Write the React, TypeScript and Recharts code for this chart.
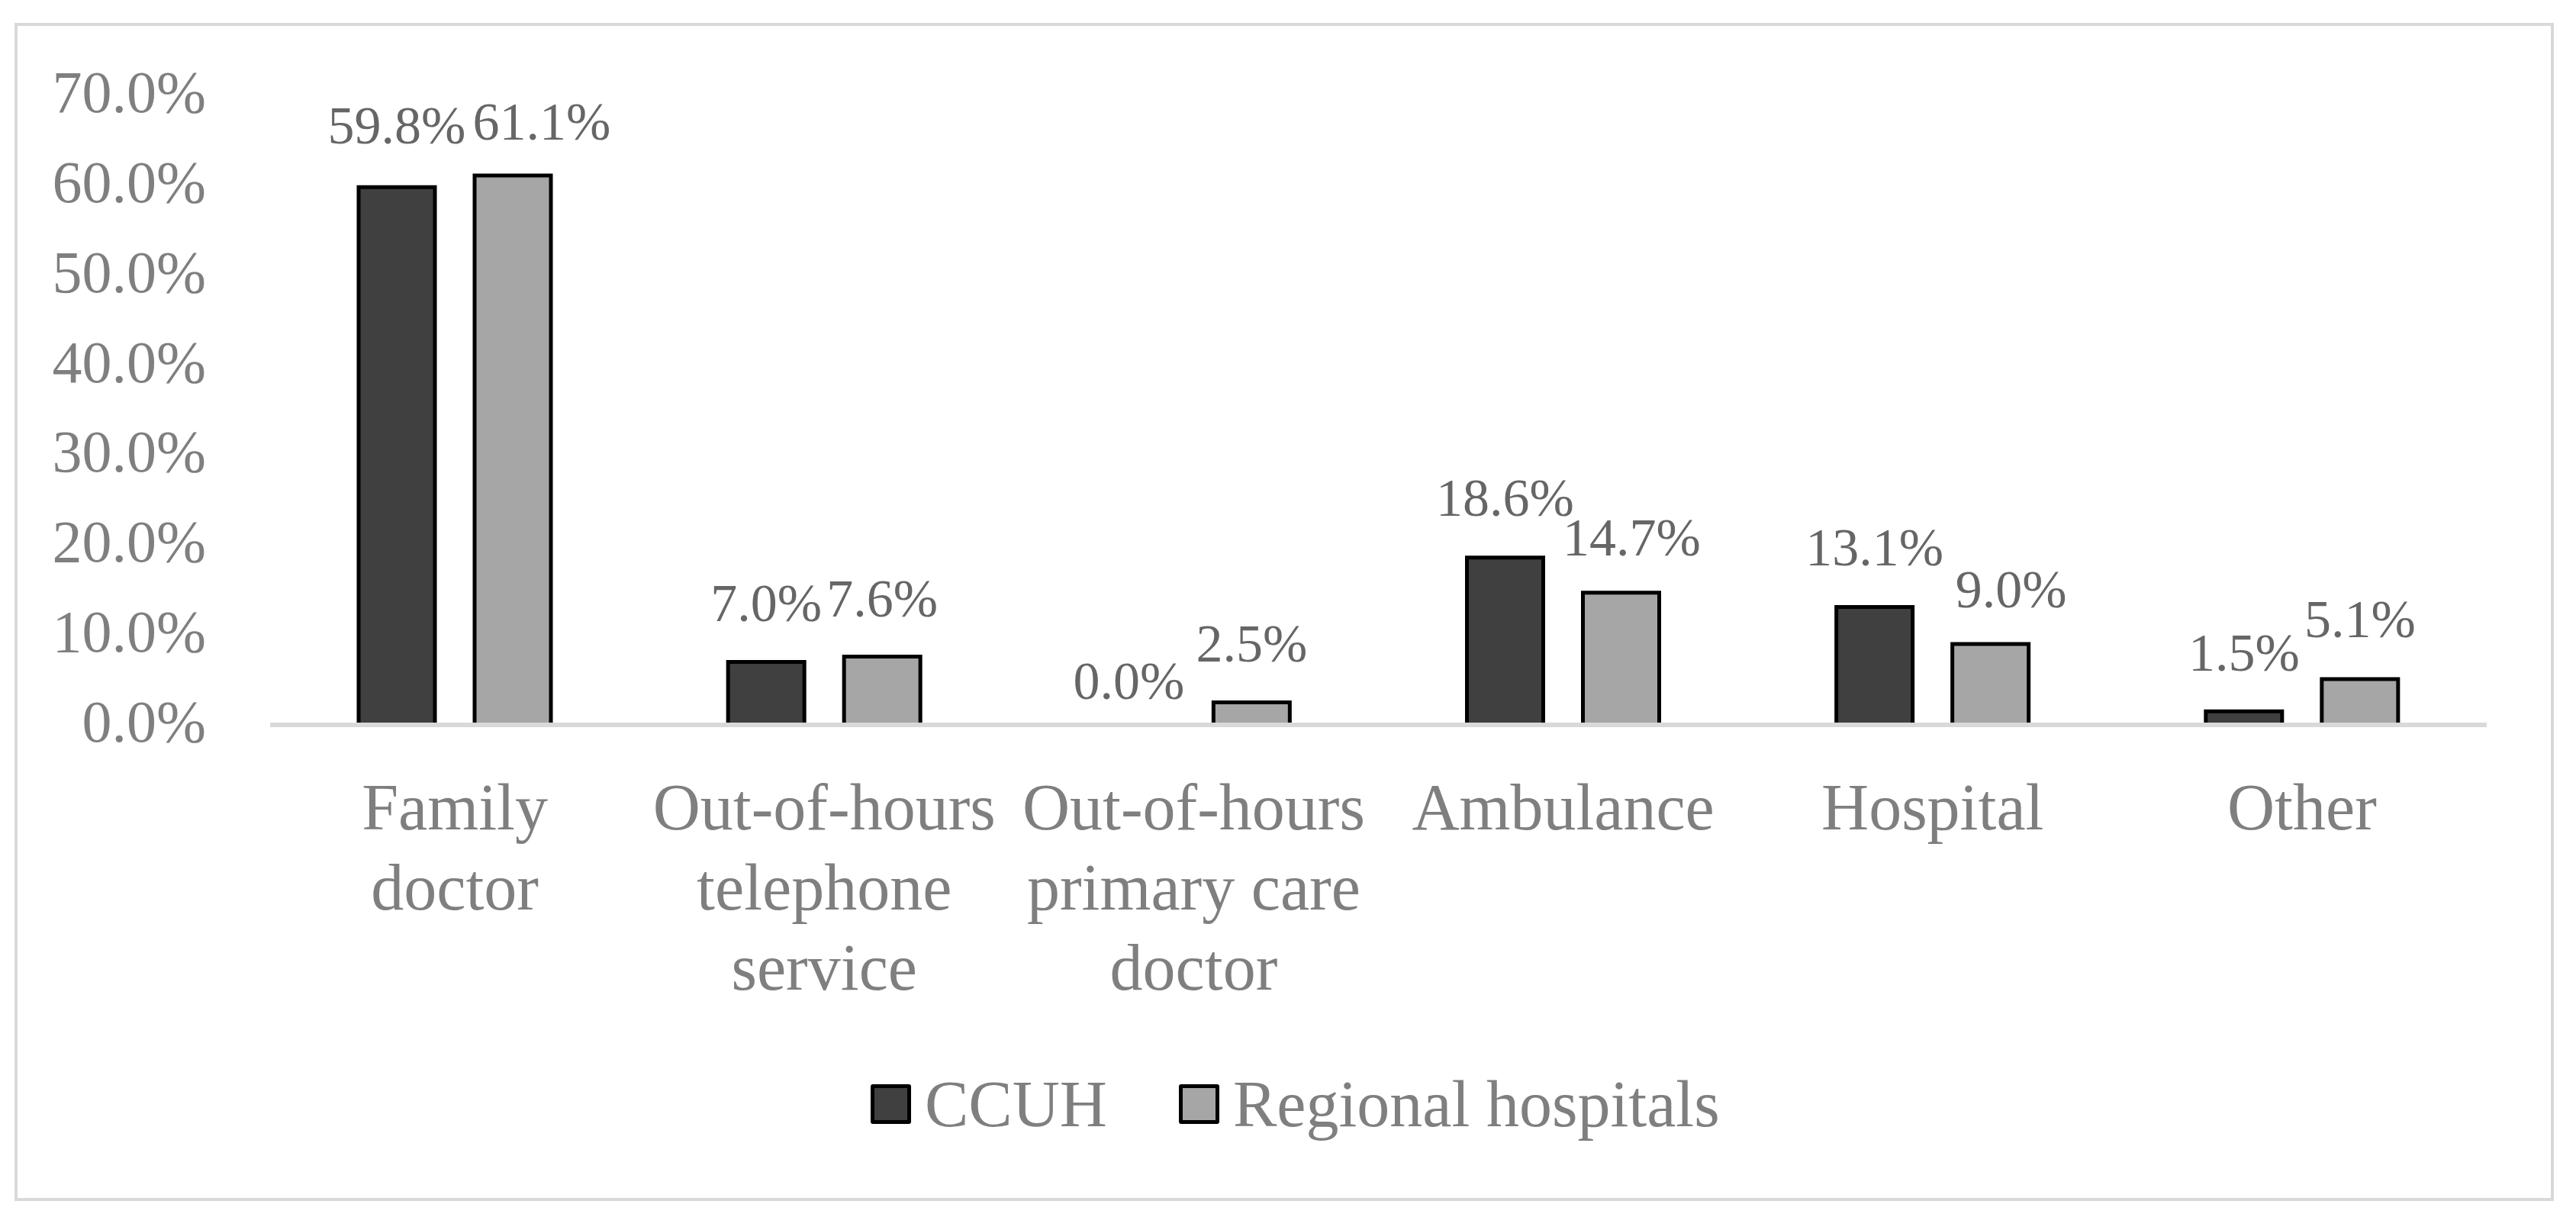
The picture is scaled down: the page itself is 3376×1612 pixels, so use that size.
import { BarChart, Bar, XAxis, YAxis, Legend, LabelList, Rectangle } from 'recharts';

// categories and series values (percent)
const categories = [
    'Family doctor',
    'Out-of-hours telephone service',
    'Out-of-hours primary care doctor',
    'Ambulance',
    'Hospital',
    'Other',
];
const categoryLines = [
    ['Family', 'doctor'],
    ['Out-of-hours', 'telephone', 'service'],
    ['Out-of-hours', 'primary care', 'doctor'],
    ['Ambulance'],
    ['Hospital'],
    ['Other'],
];
const ccuh = [59.8, 7.0, 0.0, 18.6, 13.1, 1.5];
const regional = [61.1, 7.6, 2.5, 14.7, 9.0, 5.1];
const yTicks = [0, 10, 20, 30, 40, 50, 60, 70];

const seriesNames = ['CCUH', 'Regional hospitals'];
const seriesColors = ['#404040', '#a6a6a6'];

// small nudges of the data labels, as in the original (dx, dy in px)
const ccuhLabelShift = [[0, -3], [0, 0], [-9, 21], [0, -1], [0, -1], [0, 1]];
const regionalLabelShift = [[38, 7], [0, 2], [0, 0], [14, 5], [27, 6], [0, -1]];

const data = categories.map((name, i) => ({ name, ccuh: ccuh[i], regional: regional[i] }));

const FONT = '"Liberation Serif", "Times New Roman", serif';
const pct = (v: number) => `${Number(v).toFixed(1)}%`;

function YTick(props: any) {
    const { x, y, payload } = props;
    return (
        <text x={x} y={y + 22} textAnchor="end" fontFamily={FONT} fontSize={78} fill="#7f7f7f">
            {pct(payload.value)}
        </text>
    );
}

function XTick(props: any) {
    const { x, y, payload } = props;
    const lines = categoryLines[payload.index] || [payload.value];
    return (
        <text x={x} y={y + 137} textAnchor="middle" fontFamily={FONT} fontSize={86} fill="#7f7f7f">
            {lines.map((l, i) => (
                <tspan key={i} x={x} dy={i === 0 ? 0 : 105}>{l}</tspan>
            ))}
        </text>
    );
}

function makeLabel(shift: number[][]) {
    return function ValueLabel(props: any) {
        const vb = props.viewBox || {};
        const x = vb.x ?? props.x;
        const y = vb.y ?? props.y;
        const width = vb.width ?? props.width;
        const [dx, dy] = shift[props.index] || [0, 0];
        return (
            <text x={x + width / 2 + dx} y={y - 54 + dy} textAnchor="middle" fontFamily={FONT} fontSize={70} fill="#666666">
                {pct(props.value)}
            </text>
        );
    };
}
const CcuhLabel = makeLabel(ccuhLabelShift);
const RegionalLabel = makeLabel(regionalLabelShift);

function CcuhShape(props: any) {
    if (props.payload && props.payload.ccuh === 0) return <g />;
    return <Rectangle {...props} />;
}

function CustomLegend() {
    return (
        <div style={{ height: 100, display: 'flex', alignItems: 'center', paddingLeft: 1141, fontFamily: FONT }}>
            {seriesNames.map((n, i) => (
                <div key={n} style={{ display: 'flex', alignItems: 'center', marginRight: 94 }}>
                    <div style={{ width: 43, height: 42, border: '5px solid #000', borderRadius: 3, background: seriesColors[i] }} />
                    <span style={{ fontSize: 86, lineHeight: 1, color: '#7f7f7f', marginLeft: 18 }}>{n}</span>
                </div>
            ))}
        </div>
    );
}

export default function App() {
    return (
        <div style={{ position: 'absolute', left: 0, top: 0, width: 3376, height: 1612, background: '#fff' }}>
            <div style={{ position: 'absolute', left: 19, top: 30, width: 3328, height: 1544, border: '4px solid #d9d9d9', boxSizing: 'border-box' }} />
            <div style={{ position: 'absolute', left: 0, top: 0 }}>
                <BarChart width={3376} height={1612} data={data} margin={{ top: 125, right: 117, left: 0, bottom: 115 }} barSize={100} barGap={52}>
                    <XAxis dataKey="name" height={447} tickSize={0} tickMargin={0} tickLine={false} axisLine={{ stroke: '#d9d9d9', strokeWidth: 6 }} tick={<XTick />} interval={0} />
                    <YAxis width={354} domain={[0, 70]} ticks={yTicks} tickSize={0} tickMargin={84} tickLine={false} axisLine={false} tick={<YTick />} />
                    <Legend verticalAlign="bottom" content={<CustomLegend />} />
                    <Bar dataKey="ccuh" name={seriesNames[0]} fill={seriesColors[0]} stroke="#000" strokeWidth={5} minPointSize={1} shape={<CcuhShape />} isAnimationActive={false}>
                        <LabelList dataKey="ccuh" content={<CcuhLabel />} />
                    </Bar>
                    <Bar dataKey="regional" name={seriesNames[1]} fill={seriesColors[1]} stroke="#000" strokeWidth={5} isAnimationActive={false}>
                        <LabelList dataKey="regional" content={<RegionalLabel />} />
                    </Bar>
                </BarChart>
            </div>
        </div>
    );
}
